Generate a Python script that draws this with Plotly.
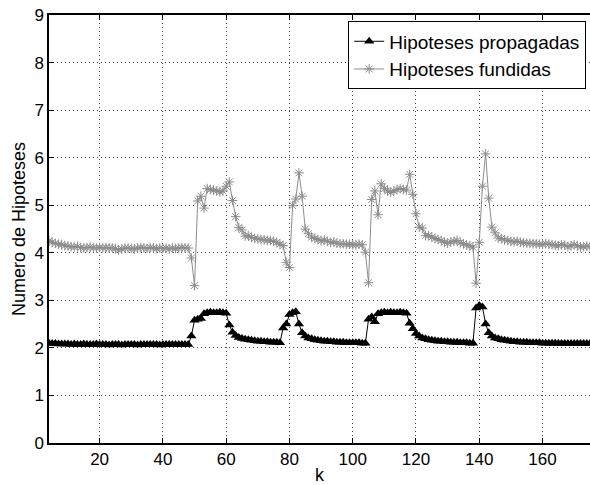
import plotly.graph_objects as go

k = list(range(4, 176))

propagadas = [
    2.10, 2.09, 2.09, 2.08, 2.08, 2.08, 2.08, 2.07, 2.08, 2.07,  # 4-13
    2.07, 2.08, 2.07, 2.07, 2.07, 2.08, 2.07, 2.07, 2.07, 2.06,  # 14-23
    2.07, 2.07, 2.07, 2.06, 2.07, 2.07, 2.07, 2.07, 2.06, 2.07,  # 24-33
    2.07, 2.07, 2.07, 2.07, 2.07, 2.06, 2.07, 2.07, 2.07, 2.07,  # 34-43
    2.07, 2.07, 2.07, 2.07, 2.07, 2.25, 2.58, 2.60, 2.62, 2.72,  # 44-53
    2.74, 2.75, 2.74, 2.74, 2.75, 2.74, 2.73, 2.48, 2.33, 2.26,  # 54-63
    2.22, 2.20, 2.18, 2.17, 2.16, 2.15, 2.14, 2.14, 2.13, 2.13,  # 64-73
    2.12, 2.12, 2.12, 2.11, 2.42, 2.50, 2.70, 2.74, 2.76, 2.50,  # 74-83
    2.32, 2.25, 2.21, 2.19, 2.17, 2.16, 2.15, 2.14, 2.14, 2.13,  # 84-93
    2.13, 2.12, 2.12, 2.12, 2.11, 2.11, 2.11, 2.11, 2.11, 2.10,  # 94-103
    2.10, 2.60, 2.65, 2.55, 2.72, 2.74, 2.75, 2.74, 2.75, 2.74,  # 104-113
    2.74, 2.75, 2.74, 2.73, 2.52, 2.40, 2.30, 2.25, 2.21, 2.19,  # 114-123
    2.17, 2.16, 2.15, 2.14, 2.14, 2.13, 2.13, 2.12, 2.12, 2.12,  # 124-133
    2.11, 2.11, 2.11, 2.10, 2.10, 2.84, 2.89, 2.86, 2.50, 2.32,  # 134-143
    2.25, 2.21, 2.19, 2.17, 2.16, 2.15, 2.14, 2.13, 2.13, 2.12,  # 144-153
    2.12, 2.12, 2.11, 2.11, 2.11, 2.11, 2.10, 2.10, 2.10, 2.10,  # 154-163
    2.10, 2.09, 2.09, 2.09, 2.09, 2.09, 2.09, 2.09, 2.09, 2.09,  # 164-173
    2.09, 2.09,                                                  # 174-175
]

fundidas = [
    4.25, 4.22, 4.20, 4.18, 4.17, 4.15, 4.14, 4.13, 4.12, 4.13,  # 4-13
    4.11, 4.10, 4.11, 4.12, 4.11, 4.10, 4.11, 4.10, 4.11, 4.10,  # 14-23
    4.10, 4.09, 4.06, 4.08, 4.10, 4.10, 4.09, 4.08, 4.10, 4.11,  # 24-33
    4.10, 4.09, 4.11, 4.10, 4.09, 4.10, 4.09, 4.10, 4.08, 4.10,  # 34-43
    4.09, 4.10, 4.11, 4.10, 4.10, 3.89, 3.31, 5.09, 5.19, 4.94,  # 44-53
    5.35, 5.33, 5.32, 5.30, 5.28, 5.30, 5.40, 5.49, 5.10, 4.76,  # 54-63
    4.53, 4.48, 4.35, 4.36, 4.32, 4.30, 4.29, 4.28, 4.27, 4.26,  # 64-73
    4.26, 4.24, 4.22, 4.18, 4.15, 3.80, 3.69, 4.99, 5.13, 5.68,  # 74-83
    5.19, 4.50, 4.40, 4.33, 4.30, 4.28, 4.25, 4.27, 4.24, 4.22,  # 84-93
    4.23, 4.20, 4.19, 4.19, 4.18, 4.18, 4.17, 4.17, 4.18, 4.17,  # 94-103
    4.01, 3.37, 5.12, 5.30, 4.80, 5.45, 5.35, 5.30, 5.27, 5.30,  # 104-113
    5.33, 5.35, 5.33, 5.32, 5.65, 5.23, 4.82, 4.54, 4.52, 4.36,  # 114-123
    4.36, 4.33, 4.30, 4.28, 4.26, 4.22, 4.20, 4.23, 4.24, 4.26,  # 124-133
    4.21, 4.19, 4.16, 4.15, 4.12, 3.36, 4.22, 5.40, 6.08, 5.15,  # 134-143
    4.54, 4.42, 4.31, 4.30, 4.27, 4.26, 4.24, 4.23, 4.24, 4.22,  # 144-153
    4.21, 4.20, 4.20, 4.19, 4.19, 4.18, 4.18, 4.19, 4.18, 4.17,  # 154-163
    4.16, 4.15, 4.17, 4.16, 4.13, 4.15, 4.17, 4.15, 4.12, 4.13,  # 164-173
    4.14, 4.13,                                                  # 174-175
]

x_ticks = [20, 40, 60, 80, 100, 120, 140, 160]
y_ticks = [0, 1, 2, 3, 4, 5, 6, 7, 8, 9]

FONT = "Liberation Sans, Arial, Helvetica, sans-serif"
GRAY = "#8c8c8c"

fig = go.Figure()
fig.add_trace(go.Scatter(
    x=k, y=propagadas, mode="lines+markers", name="Hipoteses propagadas",
    line=dict(color="black", width=1),
    marker=dict(symbol="triangle-up", size=9, color="black"),
))
fig.add_trace(go.Scatter(
    x=k, y=fundidas, mode="lines+markers", name="Hipoteses fundidas",
    line=dict(color=GRAY, width=1),
    marker=dict(symbol="asterisk-open", size=8, color=GRAY,
                line=dict(color=GRAY, width=1)),
))

axis_common = dict(
    showline=True, linecolor="black", linewidth=1.5,
    ticks="inside", ticklen=5, tickcolor="black",
    showgrid=True, gridcolor="#444444", gridwidth=1, griddash="1px,3px",
    zeroline=False,
    tickfont=dict(family=FONT, size=17, color="black"),
)

fig.update_layout(
    width=590, height=485,
    margin=dict(l=49, r=0, t=15, b=42),
    paper_bgcolor="white", plot_bgcolor="white",
    font=dict(family=FONT, size=17, color="black"),
    showlegend=True,
    legend=dict(
        x=0.993, y=0.985, xanchor="right", yanchor="top",
        bgcolor="white", bordercolor="black", borderwidth=1,
        font=dict(family=FONT, size=19, color="black"),
        tracegroupgap=0, itemsizing="trace",
    ),
)
fig.update_xaxes(
    range=[4, 175], tickmode="array", tickvals=x_ticks,
    mirror="ticks",
    title=dict(text="k", font=dict(family=FONT, size=18), standoff=2),
    **axis_common,
)
fig.update_yaxes(
    range=[0, 9], tickmode="array", tickvals=y_ticks,
    mirror=False,
    title=dict(text="Numero de Hipoteses", font=dict(family=FONT, size=18), standoff=4),
    **axis_common,
)

fig.write_html("out.html")
